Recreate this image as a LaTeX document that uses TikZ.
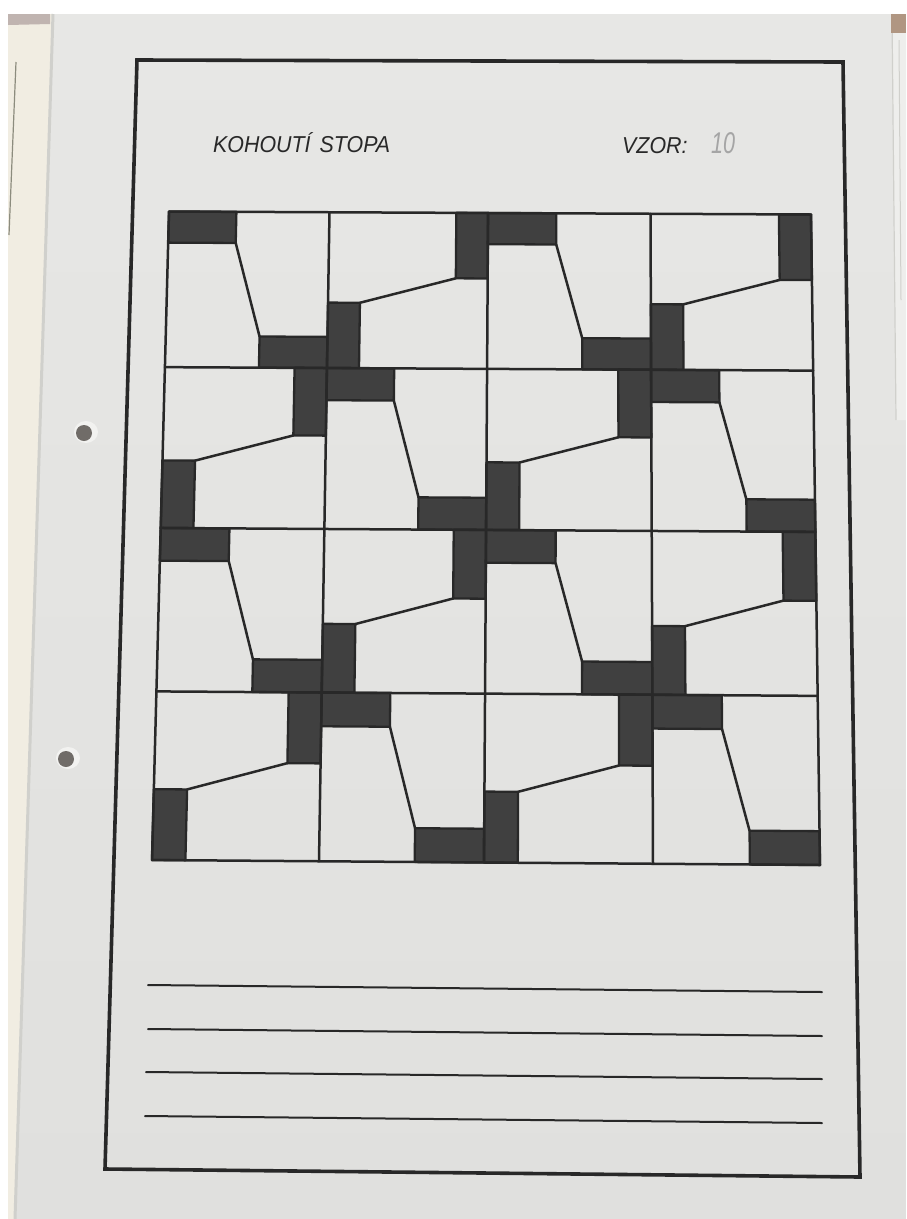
\documentclass[tikz,border=0pt]{standalone}
\usepackage{fontspec}
\usetikzlibrary{calc}
\newfontfamily\letterfont[FakeStretch=0.93]{Liberation Sans}
\definecolor{paper}{RGB}{231,231,229}
\definecolor{paperlow}{RGB}{224,224,222}
\definecolor{cream}{RGB}{241,237,226}
\definecolor{creamtop}{RGB}{192,180,176}
\definecolor{creamline}{RGB}{140,140,126}
\definecolor{edgeshade}{RGB}{208,208,204}
\definecolor{sheetright}{RGB}{238,238,236}
\definecolor{cornerbrown}{RGB}{176,150,130}
\definecolor{ink}{RGB}{40,40,40}
\definecolor{lead}{RGB}{64,64,64}
\definecolor{pencil}{RGB}{165,165,165}
\definecolor{holedark}{RGB}{112,108,104}
\definecolor{holelight}{RGB}{242,242,240}
\newcommand\tilept[3]{%
  \path ($(q-tl)!#2!(q-tr)$) coordinate (q-t) ($(q-bl)!#2!(q-br)$) coordinate (q-b);
  \coordinate (#1) at ($(q-t)!#3!(q-b)$);}
\begin{document}
\begin{tikzpicture}[x=1pt,y=-1pt,
  gridline/.style={draw=ink,line width=2.5pt,line cap=round,line join=round},
  leadbox/.style={fill=lead,draw=ink,line width=2.3pt,line join=round},
  frameline/.style={draw=ink,line width=3.6pt,line join=miter},
  writeline/.style={draw=ink,line width=2pt,line cap=round},
  lettering/.style={font=\letterfont\itshape\fontsize{23pt}{23pt}\selectfont,text=ink,inner sep=0pt,anchor=base west},
  handnum/.style={font=\letterfont\itshape\fontsize{30pt}{30pt}\selectfont,text=pencil,inner sep=0pt,anchor=base west},
]
\useasboundingbox (0,0) rectangle (906,1219);
% background sheets
\fill[white] (0,0) rectangle (906,1219);
\shade[top color=paper,bottom color=paperlow] (52,14) -- (906,14) -- (906,1219) -- (14,1219) -- cycle;
\fill[cream] (8,14) -- (52,14) -- (14,1219) -- (8,1219) -- cycle;
\fill[creamtop] (8,14) -- (50,14) -- (50,24) -- (8,25) -- cycle;
\draw[creamline,line width=1.2pt] (16,62) -- (9,235);
\draw[edgeshade,line width=3pt] (53,14) -- (15,1219);
\fill[sheetright] (892,14) -- (906,14) -- (906,420) -- (896,420) -- cycle;
\draw[edgeshade,line width=1.2pt] (892,14) -- (896,420);
\draw[edgeshade,line width=1pt] (899,40) -- (901,300);
\fill[cornerbrown] (891,14) rectangle (906,33);
% punched holes
\fill[holelight] (86,432) ellipse (12 and 11);
\fill[holedark] (84,433) ellipse (8 and 8);
\fill[holelight] (68,758) ellipse (12 and 11);
\fill[holedark] (66,759) ellipse (8 and 8);
% page frame
\coordinate (F1) at (137,60);
\coordinate (F2) at (843,62);
\coordinate (F3) at (860,1177);
\coordinate (F4) at (105,1169);
\draw[frameline] (F1) -- (F2) -- (F3) -- (F4) -- cycle;
% heading
\node[lettering] (title) at (213,152) {KOHOUTÍ\hspace{9pt}STOPA};
\node[lettering] (vzor) at (622,153) {VZOR:};
\node[handnum] (num) at (711,153) {\addfontfeature{FakeStretch=0.72}10};
% grid corners
\coordinate (GTL) at (169,211.5);
\coordinate (GTR) at (811,214.5);
\coordinate (GBL) at (152,860);
\coordinate (GBR) at (820,865);
\foreach \i/\u in {0/0,1/0.25,2/0.497,3/0.75,4/1}{
  \foreach \j/\v in {0/0,1/0.24,2/0.488,3/0.74,4/1}{
    \path ($(GTL)!\u!(GTR)$) coordinate (gt) ($(GBL)!\u!(GBR)$) coordinate (gb);
    \coordinate (g-\i-\j) at ($(gt)!\v!(gb)$);
  }
}
% tiles
\foreach \i in {0,1,2,3}{
  \foreach \j in {0,1,2,3}{
    \pgfmathtruncatemacro\ii{\i+1}
    \pgfmathtruncatemacro\jj{\j+1}
    \pgfmathtruncatemacro\tpar{mod(\i+\j,2)}
    \coordinate (q-tl) at (g-\i-\j);
    \coordinate (q-tr) at (g-\ii-\j);
    \coordinate (q-bl) at (g-\i-\jj);
    \coordinate (q-br) at (g-\ii-\jj);
    \ifnum\tpar=0
      \tilept{p1}{0.42}{0}\tilept{p2}{0.42}{0.2}\tilept{p3}{0}{0.2}
      \tilept{p4}{0.58}{0.8}\tilept{p5}{1}{0.8}\tilept{p6}{0.58}{1}
      \draw[leadbox] (q-tl) -- (p1) -- (p2) -- (p3) -- cycle;
      \draw[leadbox] (p4) -- (p5) -- (q-br) -- (p6) -- cycle;
      \draw[gridline] (p2) -- (p4);
    \else
      \tilept{p1}{0.8}{0}\tilept{p2}{1}{0.42}\tilept{p3}{0.8}{0.42}
      \tilept{p4}{0}{0.58}\tilept{p5}{0.2}{0.58}\tilept{p6}{0.2}{1}
      \draw[leadbox] (p1) -- (q-tr) -- (p2) -- (p3) -- cycle;
      \draw[leadbox] (p4) -- (p5) -- (p6) -- (q-bl) -- cycle;
      \draw[gridline] (p5) -- (p3);
    \fi
  }
}
% grid lines
\foreach \j in {0,...,4}{
  \draw[gridline] (g-0-\j) -- (g-1-\j) -- (g-2-\j) -- (g-3-\j) -- (g-4-\j);
}
\foreach \i in {0,...,4}{
  \draw[gridline] (g-\i-0) -- (g-\i-1) -- (g-\i-2) -- (g-\i-3) -- (g-\i-4);
}
% writing lines
\coordinate (w1a) at (148,985);  \coordinate (w1b) at (822,992);
\coordinate (w2a) at (148,1029); \coordinate (w2b) at (822,1036);
\coordinate (w3a) at (146,1072); \coordinate (w3b) at (822,1079);
\coordinate (w4a) at (145,1116); \coordinate (w4b) at (822,1123);
\draw[writeline] (w1a) -- (w1b);
\draw[writeline] (w2a) -- (w2b);
\draw[writeline] (w3a) -- (w3b);
\draw[writeline] (w4a) -- (w4b);
\end{tikzpicture}
\end{document}
